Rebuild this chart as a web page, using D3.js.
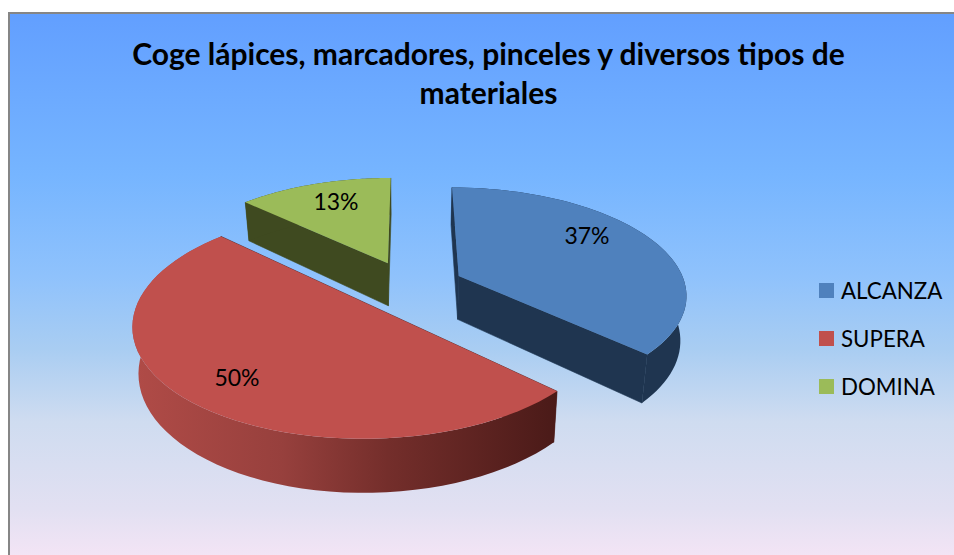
<!DOCTYPE html>
<html><head><meta charset="utf-8">
<script src="https://cdn.jsdelivr.net/npm/d3@7"></script>
<style>html,body{margin:0;padding:0;background:#fff;overflow:hidden}svg{display:block}</style></head>
<body><svg id="c" width="954" height="555"></svg>
<script>
const categories=["ALCANZA","SUPERA","DOMINA"];
const values=[37,50,13];
const labels=["37%","50%","13%"];
const topColors=["#4f81bd","#c0504d","#9bbb59"];
const wallColors=["#1f3550","#4f1d1b","#3f4a20"];
const titleLines=["Coge lápices, marcadores, pinceles y diversos tipos de","materiales"];
const FONT="Lato, Carlito, sans-serif";

const svg=d3.select("#c");
const defs=svg.append("defs");
const bg=defs.append("linearGradient").attr("id","bg").attr("x1",0).attr("y1",0).attr("x2",0).attr("y2",1);
[[0,"#629fff"],[.29,"#76b5ff"],[.47,"#8fc2fc"],[.6,"#a9cdf2"],[.73,"#cfdcf0"],[.886,"#e2e0f2"],[1,"#f9e6f6"]].forEach(s=>bg.append("stop").attr("offset",s[0]).attr("stop-color",s[1]));
const rg=defs.append("linearGradient").attr("id","redSide").attr("gradientUnits","userSpaceOnUse").attr("x1",134).attr("x2",557).attr("y1",0).attr("y2",0);
[[0,"#b04b47"],[.35,"#97403d"],[.6,"#742e2b"],[1,"#4a1a18"]].forEach(s=>rg.append("stop").attr("offset",s[0]).attr("stop-color",s[1]));

svg.append("rect").attr("x",9).attr("y",13).attr("width",960).attr("height",560).attr("fill","url(#bg)").attr("stroke","#868686").attr("stroke-width",2);

const title=svg.append("text").attr("text-anchor","middle").attr("font-family",FONT).attr("font-weight","700").attr("font-size",30).attr("fill","#000");
titleLines.forEach((t,i)=>title.append("tspan").attr("x",488.5).attr("y",65+i*39).text(t));

// perspective projection of the pie plane
const R=227,E=55,K=.465,P=.0007,Cx=409,Cy=286,D=44,Q=.022;
function proj(X,Y,Z){const w=1-P*Y;const s=1-Q*Z;return [Cx+(X/w)*s,Cy+(K*Y+D*Z)/w];}
const pie=d3.pie().sort(null).value(d=>d);
const arcs=pie(values);
const g=svg.append("g");
const angs=d=>d3.range(0,61).map(i=>d.startAngle+(d.endAngle-d.startAngle)*i/60);
function pt(d,a,r,z){const m=(d.startAngle+d.endAngle)/2;
  const X=Math.sin(m)*E+Math.sin(a)*r,Y=-Math.cos(m)*E-Math.cos(a)*r;return proj(X,Y,z);}
const line=d3.line();
function poly(pts){return line(pts)+"Z";}
const draw=[2,0,1];
draw.forEach(i=>{const d=arcs[i],sa=d.startAngle,ea=d.endAngle;
  const G=g.append("g");
  const wall=(a)=>poly([pt(d,a,0,0),pt(d,a,R,0),pt(d,a,R,1),pt(d,a,0,1)]);
  G.append("path").attr("d",wall(sa)).attr("fill",wallColors[i]).attr("stroke",wallColors[i]).attr("stroke-width",.6);
  G.append("path").attr("d",wall(ea)).attr("fill",wallColors[i]).attr("stroke",wallColors[i]).attr("stroke-width",.6);
  const as=angs(d);
  const rim=as.map(a=>pt(d,a,R,0)).concat(as.slice().reverse().map(a=>pt(d,a,R,1)));
  G.append("path").attr("d",poly(rim)).attr("fill",i===1?"url(#redSide)":wallColors[i]);
  const top=[pt(d,sa,0,0)].concat(as.map(a=>pt(d,a,R,0)));
  G.append("path").attr("d",poly(top)).attr("fill",topColors[i]);
});
const labelX=[587,237,336],labelY=[244,386,210];
labels.forEach((t,i)=>{
  svg.append("text").attr("x",labelX[i]).attr("y",labelY[i]).attr("text-anchor","middle").attr("font-family",FONT).attr("font-size",23).attr("fill","#000").text(t);
});

const leg=svg.append("g");
const ly=d3.scalePoint().domain(categories).range([290.5,386.5]);
categories.forEach((c,i)=>{
  leg.append("rect").attr("x",819).attr("y",ly(c)-7.5).attr("width",15).attr("height",15).attr("fill",topColors[i]);
  leg.append("text").attr("x",841).attr("y",ly(c)+8).attr("font-family",FONT).attr("font-size",22.3).attr("fill","#000").text(c);
});
</script></body></html>
